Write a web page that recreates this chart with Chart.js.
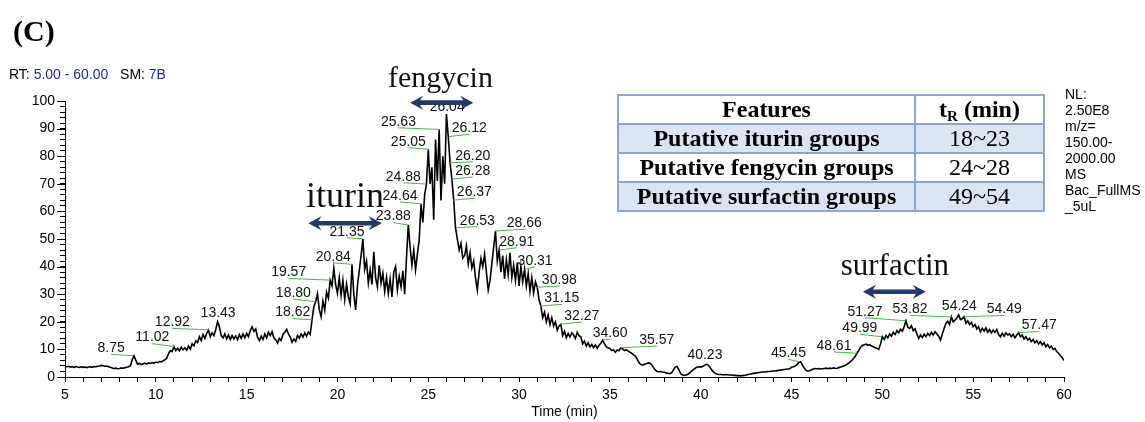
<!DOCTYPE html>
<html>
<head>
<meta charset="utf-8">
<title>Chromatogram (C)</title>
<script src="https://cdn.jsdelivr.net/npm/chart.js@4.4.0/dist/chart.umd.min.js"></script>
<style>
    html, body { margin: 0; padding: 0; background: #fff; }
    #wrap { position: relative; width: 1145px; height: 422px; overflow: hidden;
            font-family: "Liberation Sans", Arial, sans-serif; color: #000; }
    #chart { position: absolute; left: 0; top: 0; }
    .panel { position: absolute; left: 13px; top: 14px; line-height: 30px;
             font: bold 30px "Liberation Serif", "Times New Roman", serif; }
    .rt { position: absolute; left: 9px; top: 66px; font-size: 14px; line-height: 16px; white-space: pre; }
    .blue { color: #1f1fa0; }
    .nl { position: absolute; left: 1065px; top: 85.5px; font-size: 14px; line-height: 16px; }
    table.feat { position: absolute; left: 617px; top: 94px; border-collapse: collapse;
                 font-family: "Liberation Serif", "Times New Roman", serif; font-size: 24px; }
    table.feat td { border: 2px solid #8aa6d6; padding: 0; height: 27px; line-height: 27px; text-align: center; }
    table.feat td.c1 { width: 295px; font-weight: bold; }
    table.feat td.c2 { width: 127px; }
    table.feat tr.shade td { background: #dbe5f1; }
    table.feat sub { font-size: 15px; vertical-align: -4px; line-height: 0; }
</style>
</head>
<body>
<div id="wrap">
    <canvas id="chart" width="1145" height="422"></canvas>
    <div class="panel">(C)</div>
    <div class="rt">RT: <span class="blue">5.00 - 60.00</span>   SM: <span class="blue">7B</span></div>
    <div class="nl">NL:<br>2.50E8<br>m/z=<br>150.00-<br>2000.00<br>MS<br>Bac_FullMS<br>_5uL</div>
    <table class="feat">
        <tr><td class="c1">Features</td><td class="c2" style="font-weight:bold">t<sub>R</sub> (min)</td></tr>
        <tr class="shade"><td class="c1">Putative iturin groups</td><td class="c2">18~23</td></tr>
        <tr><td class="c1">Putative fengycin groups</td><td class="c2">24~28</td></tr>
        <tr class="shade"><td class="c1">Putative surfactin groups</td><td class="c2">49~54</td></tr>
    </table>
</div>
<script>
// relative abundance, one value every 0.1 min from 5.0 to 60.0
const TIME_START = 5;
const TIME_STEP = 0.1;
const intensity = [
    3.8, 3.7, 3.9, 3.6, 3.7, 3.5, 3.8, 3.6, 3.5, 3.7,            // 5
    3.5, 3.6, 3.4, 3.6, 3.7, 3.5, 3.8, 3.7, 3.9, 4.0,            // 6
    4.2, 4.1, 3.9, 4.0, 3.7, 3.5, 3.3, 3.1, 3.2, 3.0,            // 7
    3.1, 3.3, 3.2, 3.4, 3.5, 3.7, 4.0, 6.2, 7.7, 6.0,            // 8
    4.6, 4.9, 4.5, 4.8, 5.0, 4.7, 5.1, 4.9, 5.2, 5.0,            // 9
    5.4, 5.2, 5.6, 5.5, 5.9, 6.2, 6.8, 8.5, 9.6, 9.2,            // 10
    11.0, 9.6, 10.4, 9.5, 10.8, 9.8, 10.6, 9.7, 11.2, 10.1,      // 11
    12.0, 11.3, 13.1, 12.5, 14.6, 13.2, 15.4, 14.0, 15.8, 17.0,  // 12
    14.6, 16.0, 15.0, 17.2, 20.0, 18.2, 15.0, 14.2, 15.6, 13.8,  // 13
    15.2, 13.6, 15.0, 13.8, 14.9, 13.5, 15.4, 14.0, 15.6, 14.2,  // 14
    15.8, 14.6, 16.8, 18.2, 16.5, 17.4, 14.4, 13.2, 14.8, 13.6,  // 15
    15.6, 14.2, 16.2, 15.0, 16.4, 14.2, 13.5, 12.3, 14.0, 13.2,  // 16
    15.4, 16.2, 17.3, 15.6, 14.5, 12.6, 13.8, 12.9, 15.0, 14.1,  // 17
    15.6, 14.4, 16.0, 14.8, 16.3, 15.4, 20.7, 25.5, 27.3, 30.2,  // 18
    24.5, 21.8, 27.5, 24.2, 30.8, 28.6, 35.1, 33.0, 39.4, 33.5,  // 19
    30.3, 36.0, 29.5, 35.0, 28.0, 33.6, 29.0, 26.5, 40.8, 30.0,  // 20
    24.3, 33.0, 38.5, 44.0, 50.1, 39.0, 42.0, 34.0, 38.8, 33.5,  // 21
    45.4, 36.0, 32.7, 40.5, 34.0, 37.6, 31.0, 36.0, 30.3, 35.5,  // 22
    29.0, 38.0, 40.0, 31.5, 36.5, 32.7, 38.5, 30.0, 43.0, 55.1,  // 23
    47.0, 40.5, 46.0, 38.8, 44.5, 49.6, 62.7, 56.0, 66.0, 69.9,  // 24
    82.5, 70.0, 76.0, 57.0, 86.0, 71.0, 89.7, 64.0, 80.0, 70.0,  // 25
    95.3, 87.1, 77.6, 71.7, 64.1, 54.1, 50.0, 46.0, 48.5, 43.0,  // 26
    44.0, 47.5, 41.0, 45.0, 39.5, 42.0, 36.0, 31.5, 38.0, 43.0,  // 27
    40.0, 44.5, 38.0, 31.5, 35.0, 41.0, 47.0, 52.9, 42.0, 46.0,  // 28
    38.0, 44.0, 35.5, 42.5, 37.0, 45.0, 36.0, 40.5, 35.0, 41.5,  // 29
    33.0, 40.0, 34.5, 39.0, 33.0, 37.5, 31.0, 36.0, 30.5, 34.5,  // 30
    32.5, 28.0, 25.7, 21.5, 23.5, 20.0, 22.5, 19.0, 21.5, 18.5,  // 31
    20.0, 17.0, 18.5, 19.1, 15.0, 16.5, 14.2, 15.8, 14.5, 16.0,  // 32
    15.2, 14.0, 16.2, 15.0, 14.6, 12.0, 13.0, 11.2, 12.4, 11.0,  // 33
    11.8, 10.6, 11.6, 10.4, 11.5, 12.2, 13.4, 12.0, 11.0, 10.5,  // 34
    10.3, 9.6, 9.8, 9.0, 9.8, 9.5, 10.6, 10.2, 9.6, 9.9,         // 35
    9.4, 9.0, 8.6, 8.0, 7.6, 6.5, 5.2, 4.5, 4.3, 4.6,            // 36
    4.8, 5.1, 5.0, 4.4, 3.4, 2.5, 2.0, 1.9, 2.0, 1.8,            // 37
    1.7, 1.5, 1.3, 1.2, 1.6, 2.6, 3.6, 3.8, 2.6, 1.2,            // 38
    0.7, 0.6, 0.7, 1.0, 1.5, 2.1, 2.7, 3.2, 3.6, 3.7,            // 39
    3.6, 3.8, 4.2, 4.6, 4.4, 3.6, 2.6, 1.8, 1.3, 1.0,            // 40
    0.9, 0.9, 0.8, 0.8, 0.9, 0.8, 0.7, 0.7, 0.6, 0.6,            // 41
    0.5, 0.5, 0.4, 0.5, 0.6, 0.7, 0.9, 1.0, 1.2, 1.3,            // 42
    1.4, 1.5, 1.6, 1.7, 1.8, 1.8, 1.9, 2.0, 2.0, 2.1,            // 43
    2.2, 2.2, 2.3, 2.4, 2.5, 2.6, 2.7, 2.8, 2.9, 3.0,            // 44
    3.5, 3.7, 4.0, 4.5, 5.3, 5.5, 4.4, 3.2, 2.4, 2.1,            // 45
    2.3, 2.6, 2.9, 3.1, 3.0, 3.1, 2.9, 3.0, 3.1, 3.2,            // 46
    3.0, 3.2, 3.1, 3.3, 3.2, 3.1, 3.4, 3.6, 3.8, 4.1,            // 47
    4.4, 4.8, 5.3, 5.9, 6.6, 7.4, 8.6, 9.6, 10.8, 11.4,          // 48
    11.7, 11.9, 11.5, 11.7, 11.2, 11.0, 10.6, 10.4, 10.0, 12.0,  // 49
    14.6, 13.6, 15.0, 14.2, 15.6, 14.8, 16.2, 15.4, 16.8, 16.0,  // 50
    17.3, 16.6, 18.2, 20.4, 18.0, 17.6, 18.6, 16.8, 17.5, 15.6,  // 51
    14.0, 15.2, 14.3, 15.5, 14.6, 15.8, 15.0, 16.2, 15.2, 16.4,  // 52
    15.6, 14.8, 13.4, 15.6, 17.6, 19.4, 20.2, 19.0, 21.8, 20.0,  // 53
    20.6, 21.4, 22.5, 20.8, 21.2, 21.8, 19.5, 20.4, 19.0, 19.8,  // 54
    18.2, 19.0, 17.4, 18.2, 16.4, 17.6, 16.6, 17.8, 16.2, 17.2,  // 55
    16.0, 17.0, 16.2, 17.2, 15.4, 14.6, 15.8, 14.8, 16.0, 15.2,  // 56
    15.6, 14.6, 15.4, 14.2, 15.2, 16.1, 14.6, 15.2, 13.8, 14.6,  // 57
    13.4, 14.0, 12.8, 13.6, 12.4, 13.2, 12.0, 12.8, 11.6, 12.4,  // 58
    11.0, 11.8, 10.6, 11.2, 10.0, 10.4, 9.2, 8.6, 7.8, 7.0,      // 59
    6.0                                                          // 60
];

// labelled peaks: retention time and the abundance where the leader line ends
const peakTimes = ['8.75', '11.02', '12.92', '13.43', '18.62', '18.80', '19.57', '20.84', '21.35',
    '23.88', '24.64', '24.88', '25.05', '25.63', '26.04', '26.12', '26.20', '26.28', '26.37',
    '26.53', '28.66', '28.91', '30.31', '30.98', '31.15', '32.27', '34.60', '35.57', '40.23',
    '45.45', '48.61', '49.99', '51.27', '53.82', '54.24', '54.49', '57.47'];
const peakValues = [7.7, 11.0, 17.1, 20.0, 20.7, 27.3, 35.1, 40.8, 50.1,
    55.1, 62.7, 69.9, 82.5, 89.7, 95.3, 87.1, 77.6, 71.7, 64.1,
    54.1, 52.9, 46.0, 39.0, 32.5, 25.7, 19.1, 13.4, 10.6, 4.6,
    5.5, 8.6, 14.6, 20.4, 21.8, 22.5, 21.8, 16.1];

// compound groups: name, name anchor, arrow span
const groupNames = ['iturin', 'fengycin', 'surfactin'];
const groupNameTime = [20.42, 25.67, 50.69];
const groupNameValue = [61.7, 105.2, 37.0];
const arrowFrom = [18.40, 24.00, 48.93];
const arrowTo = [22.44, 27.48, 52.39];
const arrowValue = [55.7, 99.4, 30.9];

// layout only: text offset from the peak (px) and whether a leader line is drawn
const labelLayout = [
    [-22, -7.4, 1], [-22, -9, 1], [-36.5, -7.4, 1], [0, -9, 0], [-19.6, -7.3, 1], [-22.3, -8.4, 1],
    [-41, -7.7, 1], [-19.4, -7.6, 1], [-15, -7, 1], [-14.6, -8.3, 1], [-21.7, -8, 1], [-22.8, -7.3, 1],
    [-20.8, -7.6, 1], [-41.3, -7.6, 1], [0, -7, 0], [20.7, -8.4, 1], [22.7, -7, 1], [21.2, -8, 1],
    [21.2, -7.7, 1], [21.3, -7, 1], [29.6, -7.7, 1], [17.5, -8.3, 1], [10.4, -8.6, 1], [22.5, -7.3, 1],
    [21.8, -7.7, 1], [21.5, -8.3, 1], [7.5, -6.7, 1], [36.5, -7.7, 1], [0, -9.3, 0], [-11.3, -8.4, 1],
    [-23.2, -7.3, 1], [-22.3, -8.4, 1], [-40.5, -9, 1], [-41.8, -7.4, 1], [0, -8.3, 0], [40.3, -7.4, 1],
    [21.2, -7, 1]
];
const groupFontSize = [36, 30, 31];

const SANS = '"Liberation Sans", Arial, sans-serif';
const SERIF = '"Liberation Serif", "Times New Roman", serif';

function drawArrow(ctx, x1, x2, y) {
    const head = 13, half = 7, shaft = 2.3;
    ctx.beginPath();
    ctx.moveTo(x1, y);
    ctx.lineTo(x1 + head, y - half);
    ctx.lineTo(x1 + head - 3, y - shaft);
    ctx.lineTo(x2 - head + 3, y - shaft);
    ctx.lineTo(x2 - head, y - half);
    ctx.lineTo(x2, y);
    ctx.lineTo(x2 - head, y + half);
    ctx.lineTo(x2 - head + 3, y + shaft);
    ctx.lineTo(x1 + head - 3, y + shaft);
    ctx.lineTo(x1 + head, y + half);
    ctx.closePath();
    ctx.fill();
}

const annotations = {
    id: 'annotations',
    afterDraw(chart) {
        const { ctx, scales: { x, y } } = chart;
        ctx.save();

        // longer marks for the labelled y ticks
        ctx.strokeStyle = '#000';
        ctx.lineWidth = 1;
        for (let v = 0; v <= 100; v += 10) {
            const py = Math.round(y.getPixelForValue(v)) + 0.5;
            ctx.beginPath();
            ctx.moveTo(x.left - 8, py);
            ctx.lineTo(x.left, py);
            ctx.stroke();
        }

        // peak labels with green leader lines
        ctx.font = '14px ' + SANS;
        ctx.textAlign = 'center';
        ctx.textBaseline = 'middle';
        peakTimes.forEach((t, i) => {
            const px = x.getPixelForValue(parseFloat(t));
            const py = y.getPixelForValue(peakValues[i]);
            const [dx, dy, lead] = labelLayout[i];
            const tx = px + dx, ty = py + dy;
            if (lead) {
                ctx.strokeStyle = '#3dbb3d';
                ctx.lineWidth = 1;
                ctx.beginPath();
                ctx.moveTo(px, py);
                ctx.lineTo(tx, ty + 6);
                ctx.stroke();
            }
            ctx.fillStyle = '#111';
            ctx.fillText(t, tx, ty);
        });

        // group names and retention-range arrows
        ctx.textBaseline = 'alphabetic';
        groupNames.forEach((name, i) => {
            ctx.fillStyle = '#111';
            ctx.font = groupFontSize[i] + 'px ' + SERIF;
            ctx.fillText(name, x.getPixelForValue(groupNameTime[i]), y.getPixelForValue(groupNameValue[i]));
            ctx.fillStyle = '#203a69';
            drawArrow(ctx, x.getPixelForValue(arrowFrom[i]), x.getPixelForValue(arrowTo[i]),
                y.getPixelForValue(arrowValue[i]));
        });
        ctx.restore();
    }
};

const points = intensity.map((v, i) => ({ x: TIME_START + i * TIME_STEP, y: v }));

new Chart(document.getElementById('chart').getContext('2d'), {
    type: 'line',
    data: {
        datasets: [{
            data: points,
            borderColor: '#000',
            borderWidth: 1.6,
            pointRadius: 0,
            tension: 0,
            fill: false
        }]
    },
    options: {
        responsive: false,
        animation: false,
        layout: { padding: { left: 0, top: 101, right: 81, bottom: 0 } },
        plugins: { legend: { display: false }, tooltip: { enabled: false } },
        scales: {
            x: {
                type: 'linear',
                min: 5,
                max: 60,
                afterFit: s => { s.height = 45; },
                ticks: {
                    stepSize: 1,
                    autoSkip: false,
                    maxRotation: 0,
                    padding: 5,
                    color: '#000',
                    font: { family: SANS, size: 14 },
                    callback: v => (v % 5 === 0 ? String(v) : '')
                },
                grid: { drawOnChartArea: false, drawTicks: true, tickLength: 5, tickColor: '#000' },
                border: { display: true, color: '#000', width: 1 },
                title: {
                    display: true,
                    text: 'Time (min)',
                    color: '#000',
                    font: { family: SANS, size: 14 },
                    padding: { top: 0, bottom: 1 }
                }
            },
            y: {
                min: 0,
                max: 100,
                afterFit: s => { s.width = 65; },
                ticks: {
                    stepSize: 2,
                    autoSkip: false,
                    padding: 5,
                    color: '#000',
                    font: { family: SANS, size: 14 },
                    callback: v => (v % 10 === 0 ? String(v) : '')
                },
                grid: { drawOnChartArea: false, drawTicks: true, tickLength: 5, tickColor: '#000' },
                border: { display: true, color: '#000', width: 1 }
            }
        }
    },
    plugins: [annotations]
});
</script>
</body>
</html>
